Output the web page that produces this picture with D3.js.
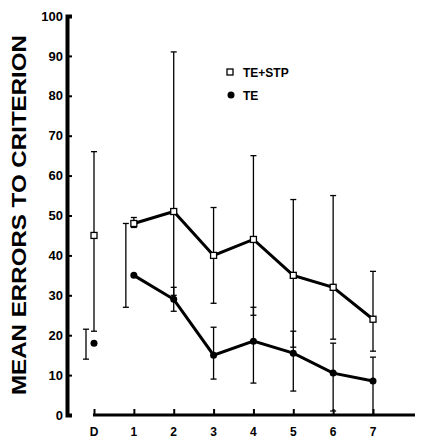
<!DOCTYPE html><html><head><script src="https://cdn.jsdelivr.net/npm/d3@7"></script>
<style>body{margin:0;background:#fff}</style></head><body><svg id="c" width="427" height="443"></svg>
<script>
const categories=["D","1","2","3","4","5","6","7"];
const stpMean=[45,48,51,40,44,35,32,24];
const stpLow=[21,47,30,28,25,17,19,16];
const stpHigh=[66,49.5,91,52,65,54,55,36];
const teMean=[18,35,29,15,18.5,15.5,10.5,8.5];
const teLow=[14,27,26,9,8,6,1,0];
const teHigh=[21.5,48,32,22,27,21,18,14.5];
const yTicks=[0,10,20,30,40,50,60,70,80,90,100];
const svg=d3.select("#c");
const x=d3.scalePoint().domain(categories).range([94,373]);
const y=d3.scaleLinear().domain([0,100]).range([415,16]);
const f="Liberation Sans, Arial, sans-serif";
const ya=svg.append("g").attr("transform","translate(67,0)").call(d3.axisRight(y).tickValues(yTicks).tickSize(5).tickFormat(d3.format("d")));
ya.select(".domain").attr("stroke-width",4);
ya.selectAll(".tick line").attr("stroke-width",2);
ya.selectAll("text").attr("x",-4).attr("text-anchor","end").style("font",`bold 13px ${f}`);
const xa=svg.append("g").attr("transform","translate(0,415)").call(d3.axisTop(x).tickSize(6).tickFormat(""));
xa.select(".domain").attr("d","M93,0H415").attr("stroke-width",3);
xa.selectAll(".tick line").attr("stroke-width",2);
svg.append("g").selectAll("text").data(categories).join("text").attr("x",d=>x(d)).attr("y",436)
 .attr("text-anchor","middle").style("font",`bold 12px ${f}`).text(d=>d);
svg.append("text").attr("transform","translate(26,215) rotate(-90)").attr("text-anchor","middle")
 .style("font",`bold 21px ${f}`).attr("textLength",360).attr("lengthAdjust","spacingAndGlyphs").text("MEAN ERRORS TO CRITERION");
function bars(lo,hi,dx){
 const g=svg.append("g").attr("stroke","#000").attr("stroke-width",1.3);
 categories.forEach((c,i)=>{const xx=x(c)+dx(i);
  g.append("line").attr("x1",xx).attr("x2",xx).attr("y1",y(lo[i])).attr("y2",y(hi[i]));
  [lo[i],hi[i]].forEach(v=>g.append("line").attr("x1",xx-3).attr("x2",xx+3).attr("y1",y(v)).attr("y2",y(v)));});
}
bars(stpLow,stpHigh,i=>0);
bars(teLow,teHigh,i=>i<=1?-8:0);
const ln=d3.line().x((d,i)=>x(categories[i+1])).y(d=>y(d));
svg.append("path").datum(stpMean.slice(1)).attr("d",ln).attr("fill","none").attr("stroke","#000").attr("stroke-width",3);
svg.append("path").datum(teMean.slice(1)).attr("d",ln).attr("fill","none").attr("stroke","#000").attr("stroke-width",3);
svg.append("g").selectAll("rect").data(stpMean).join("rect").attr("x",(d,i)=>x(categories[i])-3).attr("y",d=>y(d)-3)
 .attr("width",6).attr("height",6).attr("fill","#fff").attr("stroke","#000").attr("stroke-width",1.3);
svg.append("g").selectAll("circle").data(teMean).join("circle").attr("cx",(d,i)=>x(categories[i])).attr("cy",d=>y(d)).attr("r",3.5).attr("fill","#000");
svg.append("rect").attr("x",227).attr("y",69).attr("width",6).attr("height",6).attr("fill","#fff").attr("stroke","#000").attr("stroke-width",1.3);
svg.append("circle").attr("cx",231).attr("cy",95).attr("r",3.5);
svg.append("text").attr("x",243).attr("y",77).style("font",`bold 12px ${f}`).text("TE+STP");
svg.append("text").attr("x",243).attr("y",100).style("font",`bold 12px ${f}`).text("TE");
</script></body></html>
